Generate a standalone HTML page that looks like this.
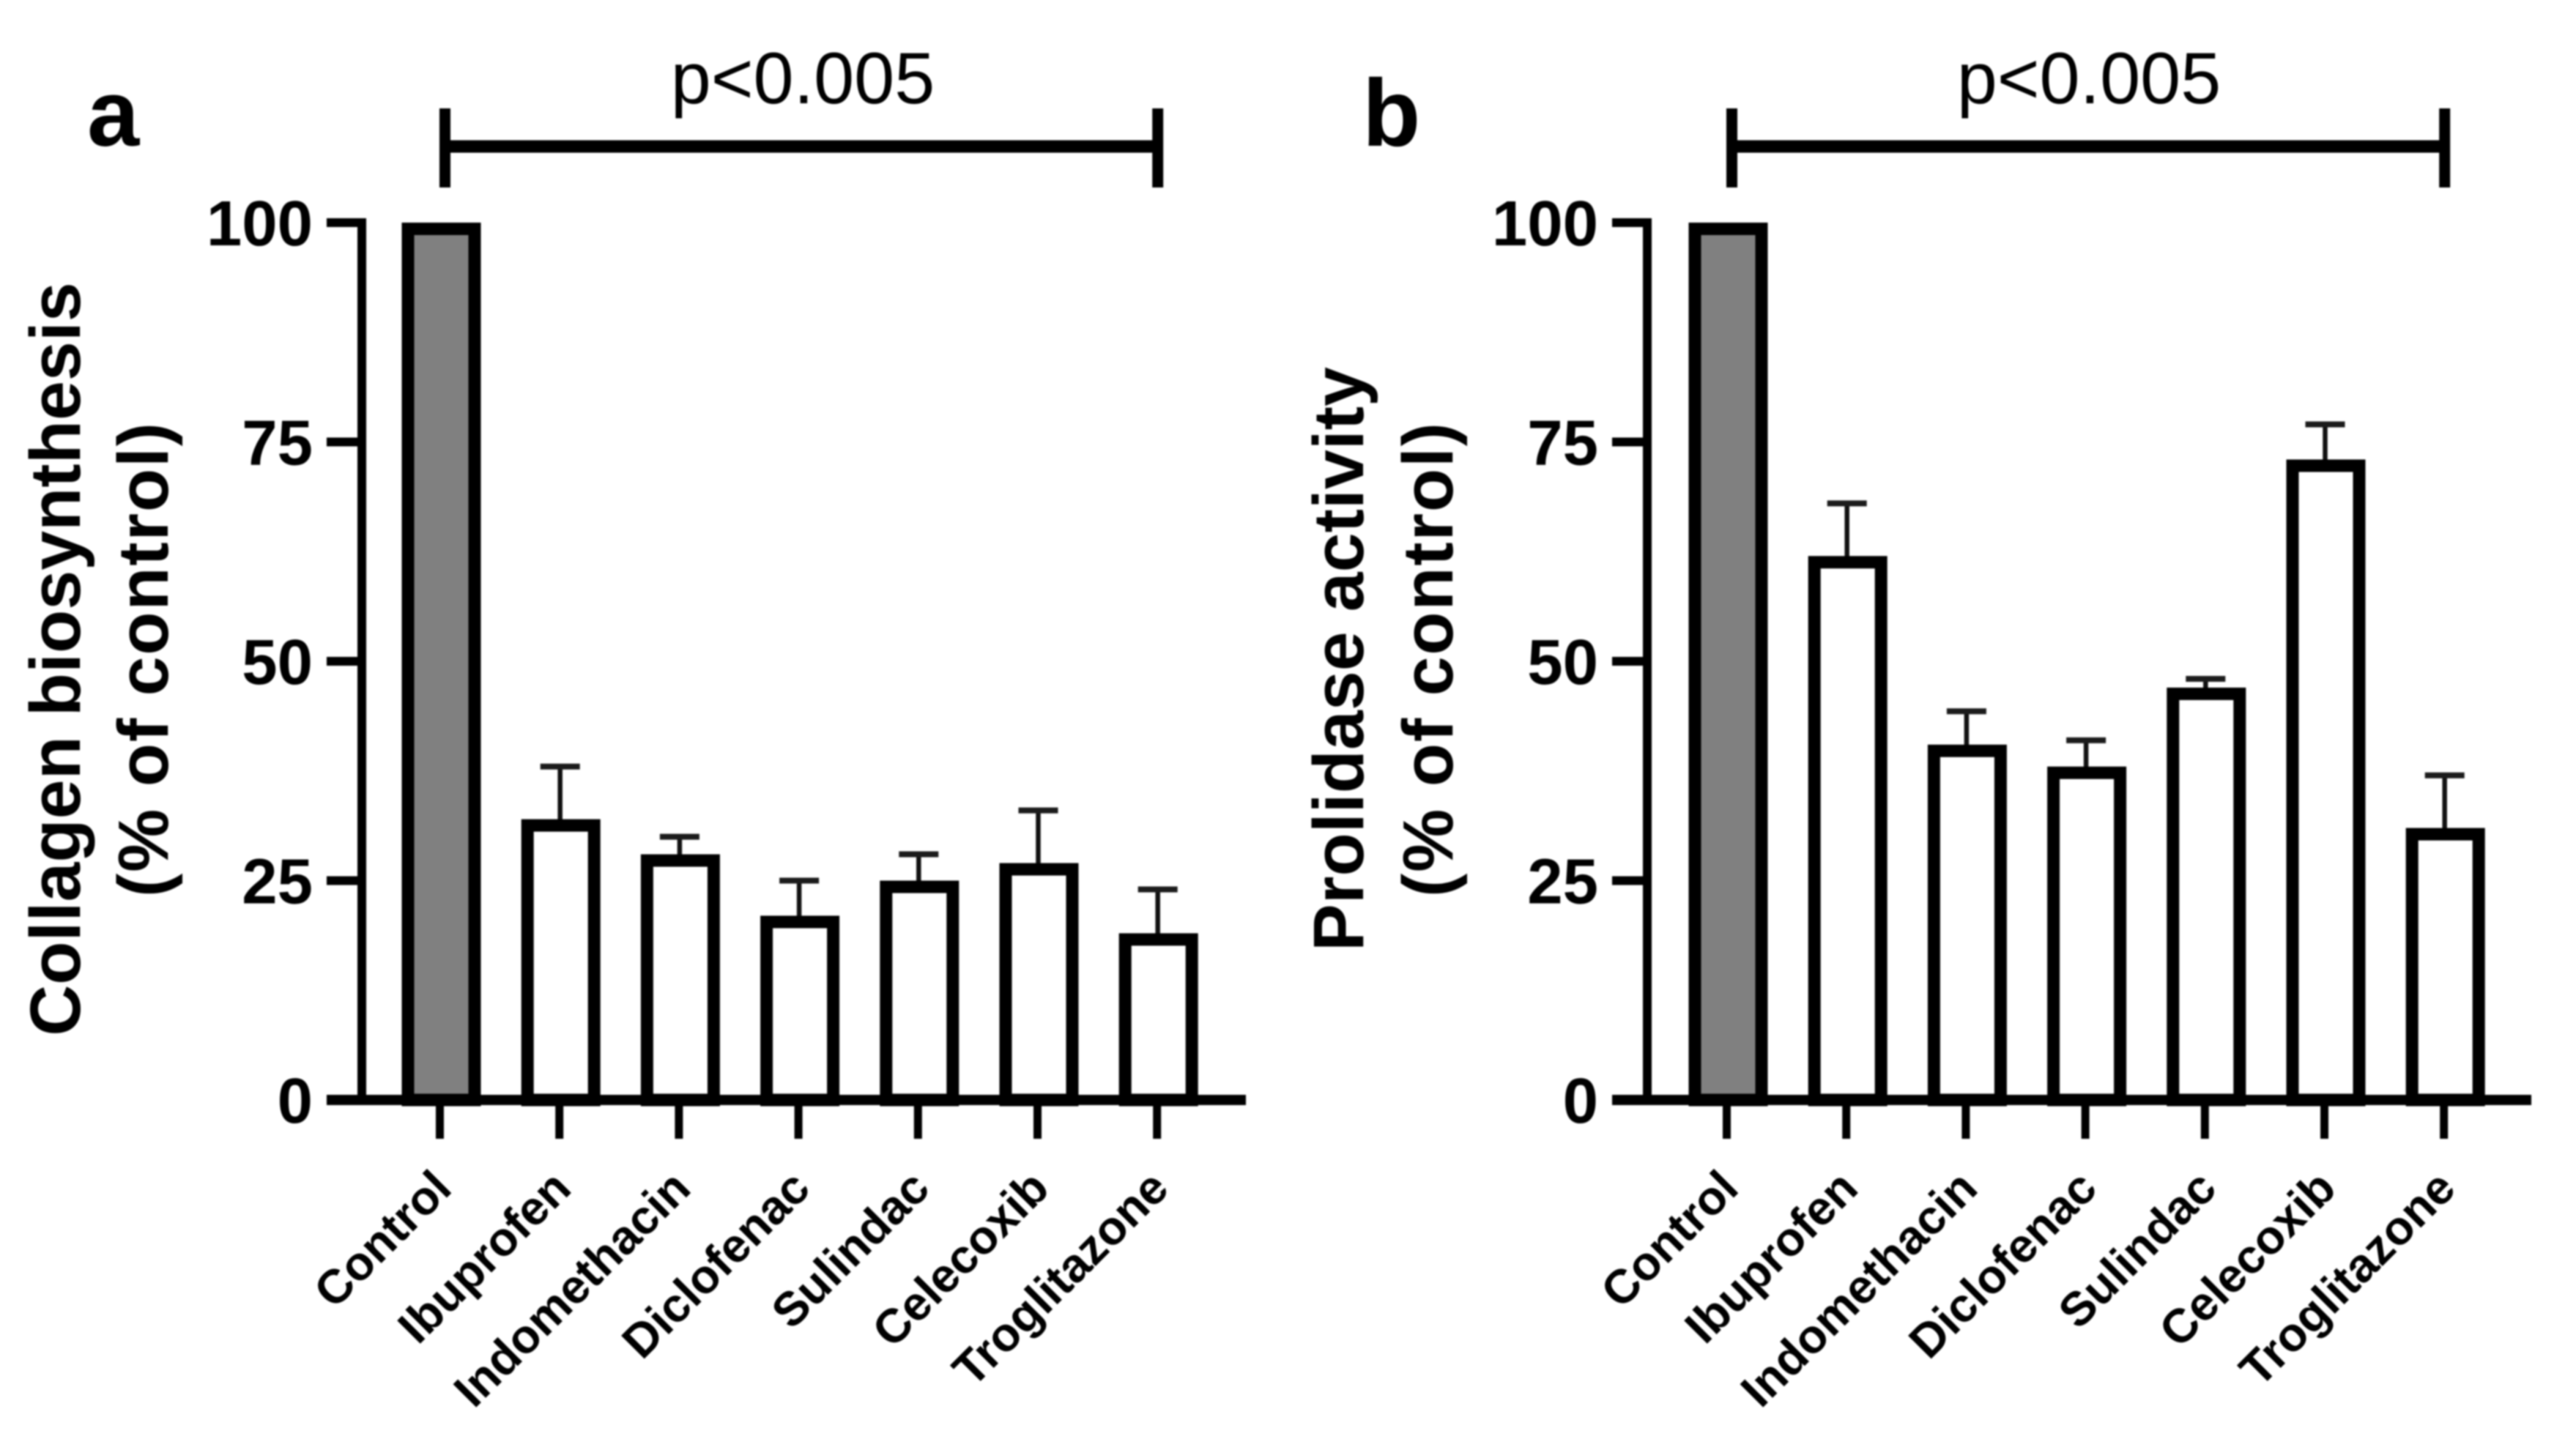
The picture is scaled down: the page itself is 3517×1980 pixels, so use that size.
<!DOCTYPE html>
<html lang="en">
<head>
<meta charset="utf-8">
<title>Collagen biosynthesis and prolidase activity</title>
<style>
html,body{margin:0;padding:0;background:#fff;}
body{width:3517px;height:1980px;overflow:hidden;}
svg{display:block;filter:blur(1px);}
text{font-family:"Liberation Sans",Arial,sans-serif;fill:#000;}
.title{font-weight:700;font-size:97px;}
.tick{font-weight:700;font-size:87px;}
.cat{font-weight:700;font-size:65px;}
.p{font-size:99px;}
</style>
</head>
<body>
<svg id="figure" xmlns="http://www.w3.org/2000/svg" width="3517" height="1980" viewBox="0 0 3517 1980">
  <rect x="0" y="0" width="3517" height="1980" fill="#fff"/>
  <g id="panel-a">
    <text x="119" y="199" font-weight="700" font-size="128">a</text>
    <text class="p" x="1096" y="141" text-anchor="middle">p&lt;0.005</text>
    <text class="title" transform="translate(109,900) rotate(-90)" text-anchor="middle">Collagen biosynthesis</text>
    <text class="title" transform="translate(229,901) rotate(-90)" text-anchor="middle" textLength="648" lengthAdjust="spacing">(% of control)</text>
    <g id="panel-a-marks"></g>
  </g>
  <g id="panel-b">
    <text x="1860" y="199" font-weight="700" font-size="130">b</text>
    <text class="p" x="2859" y="141" text-anchor="middle" style="transform:translateX(-7px)">p&lt;0.005</text>
    <text class="title" transform="translate(1861,900) rotate(-90)" text-anchor="middle">Prolidase activity</text>
    <text class="title" transform="translate(1983,901) rotate(-90)" text-anchor="middle" textLength="648" lengthAdjust="spacing">(% of control)</text>
    <g id="panel-b-marks"></g>
  </g>
</svg>
<script>
var categories = ["Control", "Ibuprofen", "Indomethacin", "Diclofenac", "Sulindac", "Celecoxib", "Troglitazone"];
var collagenValues = [100, 32, 28, 21, 25, 27, 19];
var collagenErrors = [0, 6, 2, 4, 3, 6, 5];
var prolidaseValues = [100, 62, 40.5, 38, 47, 73, 31];
var prolidaseErrors = [0, 6, 3.8, 3, 1, 4, 6];
var yTickValues = [0, 25, 50, 75, 100];
var yTickLabels = ["0", "25", "50", "75", "100"];

var NS = "http://www.w3.org/2000/svg";

function yScale(v) {
  return 1502 - v * 11.98;
}
function xScale(i, offset) {
  return 602.5 + 163.2 * i + offset;
}
function make(parent, tag, attrs) {
  var el = document.createElementNS(NS, tag);
  for (var k in attrs) {
    el.setAttribute(k, attrs[k]);
  }
  parent.appendChild(el);
  return el;
}
function line(parent, x1, y1, x2, y2, w, color) {
  return make(parent, "line", { x1: x1, y1: y1, x2: x2, y2: y2, stroke: color || "#000", "stroke-width": w });
}

function drawPanel(target, prefix, values, errors, barOffset, axisOffset) {
  var i, el;

  // error bars
  for (i = 0; i < categories.length; i++) {
    if (errors[i] > 0) {
      var cxe = xScale(i, barOffset);
      var topE = yScale(values[i] + errors[i]);
      el = line(target, cxe - 1, yScale(values[i]) + 4, cxe - 1, topE, 6.5, "#111");
      
      
      el = line(target, cxe - 28, topE, cxe + 26, topE, 8, "#1c1c1c");
      
      
    }
  }

  // bars
  for (i = 0; i < categories.length; i++) {
    var cx = xScale(i, barOffset);
    var sw = 17;
    var bw = 108;
    var top = yScale(values[i]);
    el = make(target, "rect", {
      x: cx - bw / 2 + sw / 2,
      y: top + sw / 2,
      width: bw - sw,
      height: yScale(0) - top - sw / 2,
      fill: i === 0 ? "#808080" : "#ffffff",
      stroke: "#000",
      "stroke-width": sw
    });
    
    
  }

  // y axis
  var axisX = 494 + axisOffset;
  el = line(target, axisX, yScale(100) - 6, axisX, yScale(0) + 7, 12);
  
  

  for (i = 0; i < yTickValues.length; i++) {
    var ty = yScale(yTickValues[i]);
    el = line(target, 446 + axisOffset, ty, axisX, ty, 12);
    
    
    el = make(target, "text", { x: 427 + axisOffset, y: ty + 31, "text-anchor": "end", "class": "tick" });
    el.textContent = yTickLabels[i];
    
    
  }

  // x axis
  el = line(target, 446 + axisOffset, yScale(0), 1701 + axisOffset, yScale(0), 14);
  
  

  for (i = 0; i < categories.length; i++) {
    var tx = xScale(i, barOffset) - 2;
    el = line(target, tx, yScale(0), tx, 1555, 11);
    
    
    el = make(target, "text", {
      transform: "translate(" + (tx + 19) + ",1626) rotate(-45)",
      "text-anchor": "end",
      "class": "cat"
    });
    el.textContent = categories[i];
    
    
  }

  // significance bracket spanning first and last category
  var bl = xScale(0, barOffset) + 5;
  var br = xScale(categories.length - 1, barOffset) - 1;
  el = line(target, bl, 200, br, 200, 17);
  
  
  el = line(target, bl, 148, bl, 256, 15);
  
  
  el = line(target, br, 148, br, 256, 15);
  
  
}

drawPanel(document.getElementById("panel-a-marks"), "a", collagenValues, collagenErrors, 0, 0);
drawPanel(document.getElementById("panel-b-marks"), "b", prolidaseValues, prolidaseErrors, 1757, 1755);
</script>
</body>
</html>
